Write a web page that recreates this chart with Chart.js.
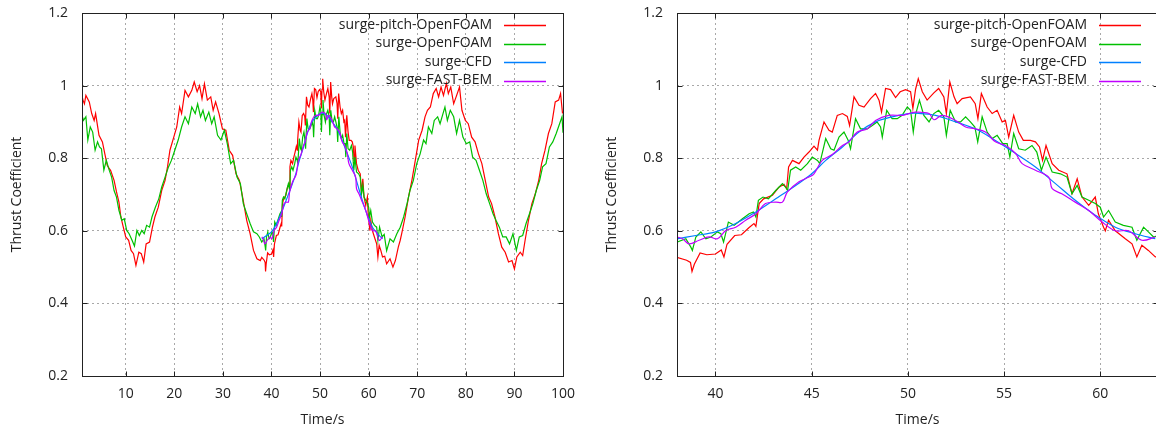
<!DOCTYPE html>
<html>
<head>
<meta charset="utf-8">
<script src="https://cdn.jsdelivr.net/npm/chart.js@4.4.1/dist/chart.umd.min.js"></script>
<style>
  html, body { margin: 0; padding: 0; background: #fff; overflow: hidden; width: 1156px; height: 432px; }
  .panel { position: absolute; top: 0; width: 578px; height: 432px; }
  #left { left: 0; }
  #right { left: 595px; }
</style>
</head>
<body>
<div class="panel" id="left"><canvas id="fullChart" width="578" height="432"></canvas></div>
<div class="panel" id="right"><canvas id="zoomChart" width="578" height="432"></canvas></div>
<script>
// Données
const seriesLabels = ["surge-pitch-OpenFOAM", "surge-OpenFOAM", "surge-CFD", "surge-FAST-BEM"];
const seriesColors = ["#ff0000", "#00c000", "#0080ff", "#c000ff"];

const fullTimeTicks = [10, 20, 30, 40, 50, 60, 70, 80, 90, 100];
const zoomTimeTicks = [40, 45, 50, 55, 60];
const thrustTicks = [0.2, 0.4, 0.6, 0.8, 1, 1.2];

const pitchTime = [
  0.9, 1.2, 1.5, 1.8, 2.5, 3.0, 3.5, 3.8, 4.5, 5.2, 5.7, 6.2, 6.9, 7.6, 8.1, 8.6, 9.0, 9.5, 10.0, 10.6,
  11.1, 11.6, 12.1, 12.7, 13.2, 13.7, 14.2, 14.9, 15.5, 16.0, 16.7, 17.4, 18.1, 18.6, 19.1, 19.8, 20.5, 21.1, 21.5, 22.2,
  22.9, 23.6, 24.1, 24.7, 25.2, 25.7, 26.2, 26.8, 27.5, 28.0, 28.5, 29.2, 29.9, 30.6, 31.3, 32.0, 32.7, 33.4, 34.1, 34.9,
  35.6, 36.3, 37.0, 37.7,
  38.0, 38.5, 38.7, 38.78, 38.9, 39.2, 39.55, 40.0, 40.3, 40.44, 40.6, 41.0, 41.35, 41.75, 42.0, 42.1, 42.27, 42.5, 42.96, 43.3,
  43.56, 43.7, 43.8, 44.0, 44.34, 44.6, 44.86, 45.12, 45.3, 45.38, 45.64, 45.9, 46.07, 46.33, 46.6, 46.85, 46.97, 47.2, 47.46, 47.72,
  48.06, 48.32, 48.5, 48.63, 48.84, 49.1, 49.36, 49.6, 49.88, 50.14, 50.26, 50.4, 50.54, 50.75, 51.0, 51.35, 51.6, 51.87, 52.0, 52.18,
  52.4, 52.56, 52.82, 53.25, 53.5, 53.64, 53.82, 54.12, 54.38, 54.64, 54.9, 55.07, 55.24, 55.5, 55.76, 56.0, 56.37, 56.63, 56.84, 57.0,
  57.18, 57.5, 57.84, 58.27, 58.53, 58.8, 59.05, 59.4, 59.74, 59.9, 60.17, 60.26, 60.43, 60.78, 61.3, 61.65, 61.9, 62.16, 62.5, 62.86,
  63.3, 63.7, 64.4, 65.0, 65.5, 66.1, 66.5, 66.8, 67.5, 68.2, 68.9, 69.6, 70.3, 71.0, 71.6, 72.1, 72.7, 73.3, 73.9, 74.4,
  74.9, 75.4, 76.0, 76.4, 76.9, 77.5, 78.0, 78.7, 79.2, 79.9, 80.5, 81.2, 81.9, 82.6, 83.3, 84.0, 84.7, 85.3, 86.0, 86.7,
  87.4, 88.1, 88.8, 89.5, 90.0, 90.5, 91.2, 91.7, 92.2, 92.9, 93.6, 94.3, 95.0, 95.6, 96.3, 97.0, 97.7, 98.4, 99.1, 99.5, 99.9
];
const pitchThrust = [
  0.978, 0.96, 0.95, 0.973, 0.955, 0.923, 0.904, 0.923, 0.863, 0.845, 0.812, 0.78, 0.766, 0.739, 0.707, 0.679, 0.638, 0.61, 0.583, 0.574,
  0.546, 0.537, 0.505, 0.541, 0.537, 0.514, 0.564, 0.569, 0.61, 0.638, 0.665, 0.711, 0.739, 0.776, 0.822, 0.854, 0.886, 0.941, 0.923, 0.987,
  0.969, 0.987, 1.01, 0.983, 1.0, 0.964, 1.005, 0.96, 0.969, 0.932, 0.955, 0.923, 0.881, 0.877, 0.822, 0.808, 0.757, 0.739, 0.69, 0.629,
  0.592, 0.546, 0.523, 0.518,
  0.527, 0.519, 0.513, 0.488, 0.508, 0.539, 0.534, 0.536, 0.547, 0.528, 0.563, 0.587, 0.589, 0.609, 0.62, 0.612, 0.675, 0.688, 0.698, 0.72,
  0.728, 0.716, 0.776, 0.794, 0.785, 0.803, 0.817, 0.833, 0.822, 0.849, 0.90, 0.877, 0.872, 0.918, 0.923, 0.915, 0.89, 0.969, 0.946, 0.941,
  0.964, 0.978, 0.96, 0.927, 0.992, 0.989, 0.967, 0.983, 0.989, 0.983, 0.937, 0.99, 1.019, 0.983, 0.96, 0.98, 0.992, 0.969, 0.923, 1.01,
  0.969, 0.95, 0.964, 0.969, 0.95, 0.909, 0.978, 0.941, 0.923, 0.932, 0.90, 0.904, 0.858, 0.918, 0.872, 0.849, 0.849, 0.845, 0.831, 0.794,
  0.835, 0.785, 0.767, 0.757, 0.702, 0.743, 0.693, 0.67, 0.693, 0.647, 0.61, 0.60, 0.629, 0.60, 0.578, 0.564, 0.528, 0.56, 0.546, 0.528,
  0.53, 0.509, 0.523, 0.50, 0.518, 0.555, 0.574, 0.592, 0.638, 0.693, 0.739, 0.794, 0.85, 0.877, 0.914, 0.932, 0.941, 0.978, 0.992, 0.969,
  0.996, 0.973, 1.006, 0.978, 0.996, 0.95, 0.969, 0.996, 0.932, 0.904, 0.895, 0.858, 0.845, 0.812, 0.785, 0.739, 0.693, 0.675, 0.638, 0.592,
  0.555, 0.541, 0.514, 0.518, 0.495, 0.528, 0.541, 0.532, 0.574, 0.629, 0.675, 0.702, 0.739, 0.785, 0.822, 0.868, 0.895, 0.955, 0.96, 0.978, 0.923
];

const surgeTime = [
  0.9, 1.3, 1.8, 2.2, 2.7, 3.2, 3.7, 4.2, 4.6, 5.0, 5.5, 6.0, 6.6, 7.1, 7.6, 8.1, 8.6, 9.2, 9.7, 10.2,
  10.7, 11.3, 11.8, 12.3, 12.8, 13.3, 13.8, 14.3, 14.9, 15.4, 16.1, 16.8, 17.4, 18.1, 18.8, 19.4, 20.1, 20.8, 21.5, 22.2,
  22.9, 23.6, 24.3, 24.8, 25.4, 25.9, 26.4, 27.1, 27.7, 28.2, 28.9, 29.6, 30.3, 30.9, 31.6, 32.2, 32.9, 33.6, 34.2, 34.9,
  35.6, 36.3, 37.0, 37.5,
  38.0, 38.46, 38.72, 38.8, 38.98, 39.24, 39.5, 39.76, 40.1, 40.28, 40.42, 40.67, 40.97, 41.4, 41.75, 41.97, 42.1, 42.23, 42.47, 42.75,
  43.13, 43.48, 43.65, 43.75, 43.9, 44.17, 44.43, 44.78, 45.03, 45.3, 45.42, 45.73, 45.99, 46.16, 46.42, 46.68, 46.9, 47.02, 47.28, 47.54,
  47.89, 48.15, 48.4, 48.58, 48.67, 48.9, 49.18, 49.45, 49.7, 49.97, 50.14, 50.28, 50.4, 50.6, 50.83, 51.1, 51.35, 51.6, 51.87, 52.0,
  52.2, 52.48, 52.74, 53.0, 53.25, 53.48, 53.63, 53.86, 54.12, 54.38, 54.64, 54.93, 55.16, 55.3, 55.5, 55.76, 56.1, 56.45, 56.7, 56.94,
  57.18, 57.5, 57.93, 58.27, 58.53, 58.8, 59.05, 59.4, 59.74, 60.0, 60.17, 60.43, 60.78, 61.2, 61.65, 61.9, 62.25, 62.5, 62.77,
  63.2, 63.7, 64.4, 65.1, 65.8, 66.5, 67.2, 67.9, 68.5, 69.2, 69.9, 70.6, 71.3, 71.8, 72.3, 73.0, 73.5, 74.2, 74.7, 75.3,
  75.7, 76.2, 76.8, 77.5, 78.1, 78.7, 79.4, 80.1, 80.8, 81.4, 82.1, 82.8, 83.5, 84.2, 84.9, 85.6, 86.2, 86.9, 87.6, 88.3,
  89.0, 89.7, 90.4, 91.0, 91.7, 92.4, 93.1, 93.8, 94.5, 95.2, 95.8, 96.5, 97.2, 97.9, 98.6, 99.3, 99.8, 100
];
const surgeThrust = [
  0.923, 0.904, 0.914, 0.85, 0.886, 0.872, 0.822, 0.845, 0.831, 0.826, 0.767, 0.794, 0.767, 0.748, 0.711, 0.693, 0.656, 0.629, 0.633, 0.601,
  0.592, 0.574, 0.558, 0.601, 0.587, 0.601, 0.592, 0.615, 0.61, 0.638, 0.665, 0.688, 0.72, 0.748, 0.776, 0.794, 0.822, 0.85, 0.886, 0.914,
  0.895, 0.941, 0.923, 0.95, 0.914, 0.932, 0.904, 0.927, 0.895, 0.914, 0.863, 0.85, 0.877, 0.84, 0.785, 0.794, 0.748, 0.73, 0.675, 0.647,
  0.62, 0.597, 0.592, 0.583,
  0.569, 0.578, 0.555, 0.546, 0.583, 0.597, 0.578, 0.583, 0.597, 0.592, 0.569, 0.624, 0.615, 0.633, 0.647, 0.652, 0.638, 0.684, 0.693, 0.688,
  0.711, 0.73, 0.72, 0.711, 0.767, 0.776, 0.767, 0.785, 0.803, 0.794, 0.785, 0.854, 0.826, 0.822, 0.858, 0.872, 0.849, 0.826, 0.909, 0.881,
  0.881, 0.89, 0.90, 0.886, 0.858, 0.932, 0.909, 0.909, 0.918, 0.941, 0.932, 0.872, 0.92, 0.96, 0.918, 0.90, 0.923, 0.932, 0.914, 0.863,
  0.932, 0.90, 0.90, 0.914, 0.90, 0.886, 0.845, 0.914, 0.872, 0.854, 0.863, 0.84, 0.84, 0.803, 0.868, 0.826, 0.822, 0.835, 0.817, 0.767,
  0.803, 0.762, 0.757, 0.748, 0.702, 0.725, 0.693, 0.684, 0.675, 0.665, 0.638, 0.656, 0.624, 0.615, 0.61, 0.574, 0.61, 0.597, 0.583,
  0.59, 0.545, 0.578, 0.569, 0.592, 0.61, 0.638, 0.675, 0.711, 0.739, 0.785, 0.812, 0.85, 0.84, 0.886, 0.868, 0.904, 0.914, 0.895, 0.923,
  0.941, 0.904, 0.932, 0.914, 0.868, 0.904, 0.858, 0.84, 0.845, 0.803, 0.794, 0.767, 0.739, 0.702, 0.675, 0.647, 0.629, 0.61, 0.583, 0.583,
  0.564, 0.592, 0.546, 0.583, 0.587, 0.62, 0.647, 0.675, 0.711, 0.739, 0.776, 0.785, 0.831, 0.845, 0.868, 0.895, 0.914, 0.87
];

const cfdTime = [
  38.0, 38.98, 40.0, 41.05, 42.1, 43.13, 44.17, 45.0, 45.73, 46.6, 47.46, 48.32, 49.18, 50.05,
  50.4, 51.44, 52.48, 53.5, 54.55, 55.6, 56.63, 57.67, 58.7, 59.74, 60.78, 61.82, 62.86
];
const cfdThrust = [
  0.578, 0.587, 0.597, 0.62, 0.652, 0.688, 0.725, 0.757, 0.794, 0.831, 0.872, 0.90, 0.914, 0.923,
  0.924, 0.918, 0.90, 0.881, 0.849, 0.813, 0.776, 0.73, 0.684, 0.643, 0.61, 0.592, 0.578
];

const bemTime = [
  38.0, 38.29, 38.63, 39.15, 39.67, 40.1, 40.54, 41.05, 41.57, 42.1, 42.6, 43.13, 43.48, 43.74, 44.34, 44.86, 45.12, 45.55, 46.07, 46.6,
  46.94, 47.37, 47.89, 48.32, 49.0, 49.7, 50.05, 50.4, 51.1, 51.35, 51.78, 52.48, 53.0, 53.5, 54.03, 54.55, 55.07, 55.6, 55.94, 56.63,
  57.32, 57.5, 58.0, 58.7, 59.4, 60.1, 60.78, 61.47, 62.16, 62.86
];
const bemThrust = [
  0.583, 0.578, 0.564, 0.574, 0.583, 0.578, 0.601, 0.61, 0.629, 0.647, 0.675, 0.679, 0.679, 0.707, 0.735, 0.748, 0.757, 0.794, 0.81, 0.835,
  0.845, 0.872, 0.881, 0.904, 0.918, 0.918, 0.923, 0.927, 0.923, 0.906, 0.918, 0.904, 0.886, 0.881, 0.872, 0.845, 0.835, 0.813, 0.785, 0.767,
  0.748, 0.716, 0.702, 0.679, 0.656, 0.624, 0.60, 0.60, 0.574, 0.583
];

const FONT = "'Open Sans', sans-serif";
const TEXT = "#222";

const points = (times, values) => times.map((t, i) => ({ x: t, y: values[i] }));

// Cadre gnuplot : bordure, graduations vers l'intérieur, légende
const framePlugin = {
  id: "frame",
  afterDatasetsDraw(chart) {
    const { ctx, chartArea: a, scales } = chart;
    const L = Math.round(a.left) + 0.5, R = Math.round(a.right) + 0.5;
    const T = Math.round(a.top) + 0.5, B = Math.round(a.bottom) + 0.5;
    ctx.save();
    ctx.strokeStyle = TEXT;
    ctx.lineWidth = 1;
    ctx.beginPath();
    scales.x.ticks.forEach(t => {
      const x = Math.round(scales.x.getPixelForValue(t.value)) + 0.5;
      ctx.moveTo(x, B); ctx.lineTo(x, B - 5);
      ctx.moveTo(x, T); ctx.lineTo(x, T + 5);
    });
    scales.y.ticks.forEach(t => {
      const y = Math.round(scales.y.getPixelForValue(t.value)) + 0.5;
      ctx.moveTo(L, y); ctx.lineTo(L + 5, y);
      ctx.moveTo(R, y); ctx.lineTo(R - 5, y);
    });
    ctx.stroke();
    ctx.strokeRect(L, T, R - L, B - T);

    // Légende
    ctx.font = "14px " + FONT;
    ctx.textAlign = "right";
    ctx.textBaseline = "middle";
    chart.data.datasets.forEach((ds, i) => {
      const y = a.top + 12 + i * 18.5;
      ctx.fillStyle = TEXT;
      ctx.fillText(ds.label, a.right - 71, y);
      ctx.strokeStyle = ds.borderColor;
      ctx.lineWidth = 1.3;
      ctx.beginPath();
      ctx.moveTo(a.right - 59, Math.round(y) + 0.5);
      ctx.lineTo(a.right - 17, Math.round(y) + 0.5);
      ctx.stroke();
    });
    ctx.restore();
  }
};

function makeChart(id, xMin, xMax, xTicks) {
  const series = [
    points(pitchTime, pitchThrust),
    points(surgeTime, surgeThrust),
    points(cfdTime, cfdThrust),
    points(bemTime, bemThrust)
  ];
  return new Chart(document.getElementById(id), {
    type: "line",
    data: {
      datasets: series.map((data, i) => ({
        label: seriesLabels[i],
        data: data,
        borderColor: seriesColors[i],
        borderWidth: 1.2,
        pointRadius: 0,
        tension: i >= 2 ? 0.35 : 0,
        order: 3 - i
      }))
    },
    options: {
      responsive: false,
      animation: false,
      layout: { padding: { left: 0, right: 15, top: 13, bottom: 0 } },
      plugins: { legend: { display: false }, tooltip: { enabled: false } },
      scales: {
        x: {
          type: "linear",
          min: xMin,
          max: xMax,
          afterBuildTicks: s => { s.ticks = xTicks.map(v => ({ value: v })); },
          afterFit: s => { s.height = 56; s.paddingLeft = 0; s.paddingRight = 0; },
          grid: { color: "#a8a8a8", drawTicks: false },
          border: { display: false, dash: [2, 3] },
          ticks: { color: TEXT, font: { family: FONT, size: 14 }, padding: 10, maxRotation: 0, autoSkip: false, callback: v => String(v) },
          title: { display: true, text: "Time/s", color: TEXT, font: { family: FONT, size: 14 }, padding: { top: 0, bottom: 4 } }
        },
        y: {
          type: "linear",
          min: 0.2,
          max: 1.2,
          afterBuildTicks: s => { s.ticks = thrustTicks.map(v => ({ value: v })); },
          afterFit: s => { s.width = 82; s.paddingTop = 0; s.paddingBottom = 0; },
          grid: { color: "#a8a8a8", drawTicks: false },
          border: { display: false, dash: [2, 3] },
          ticks: { color: TEXT, font: { family: FONT, size: 14 }, padding: 14, callback: v => String(v) },
          title: { display: true, text: "Thrust Coefficient", color: TEXT, font: { family: FONT, size: 14 }, padding: { top: 9, bottom: 0 } }
        }
      }
    },
    plugins: [framePlugin]
  });
}

makeChart("fullChart", 1, 100, fullTimeTicks);
makeChart("zoomChart", 38, 63, zoomTimeTicks);
</script>
</body>
</html>
